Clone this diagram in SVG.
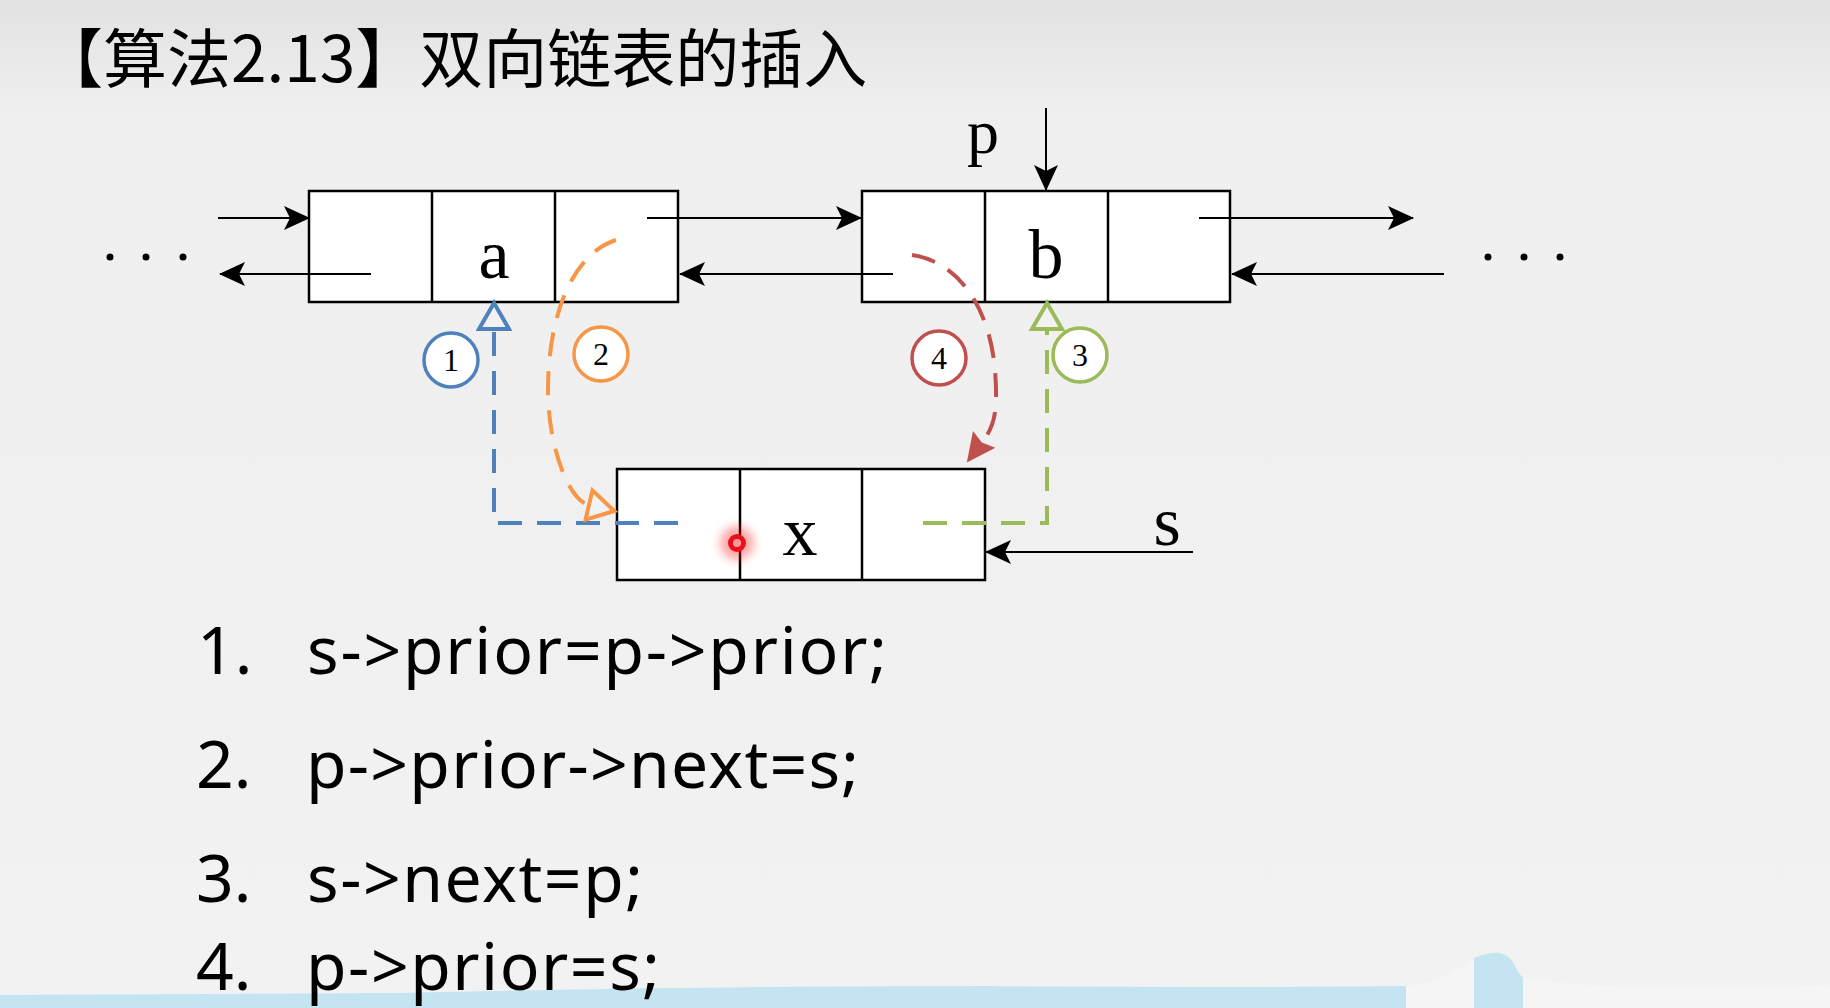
<svg xmlns="http://www.w3.org/2000/svg" width="1830" height="1008" viewBox="0 0 1830 1008">
<defs>
<linearGradient id="bg" x1="0" y1="0" x2="0" y2="1">
<stop offset="0" stop-color="#e2e2e2"/>
<stop offset="0.11" stop-color="#efefef"/>
<stop offset="1" stop-color="#f2f2f2"/>
</linearGradient>
<marker id="ah" markerUnits="userSpaceOnUse" markerWidth="26" markerHeight="26" viewBox="0 0 26 26" refX="25" refY="13" orient="auto"><path d="M0,1 L26,13 L0,25 L6,13 z" fill="#000"/></marker>
<marker id="oBlue" markerUnits="userSpaceOnUse" markerWidth="36" markerHeight="36" viewBox="0 0 36 36" refX="4" refY="18" orient="auto"><path d="M4,3 L30,18 L4,33 z" fill="#f2f2f2" stroke="#4f81bd" stroke-width="4"/></marker>
<marker id="oOrange" markerUnits="userSpaceOnUse" markerWidth="36" markerHeight="36" viewBox="0 0 36 36" refX="4" refY="18" orient="auto"><path d="M4,3 L30,18 L4,33 z" fill="#f2f2f2" stroke="#f79646" stroke-width="4"/></marker>
<marker id="oGreen" markerUnits="userSpaceOnUse" markerWidth="36" markerHeight="36" viewBox="0 0 36 36" refX="4" refY="18" orient="auto"><path d="M4,3 L30,18 L4,33 z" fill="#f2f2f2" stroke="#9bbb59" stroke-width="4"/></marker>
<marker id="fRed" markerUnits="userSpaceOnUse" markerWidth="30" markerHeight="30" viewBox="0 0 30 30" refX="2" refY="15" orient="auto"><path d="M0,1 L29,15 L0,29 L4,15 z" fill="#c0504d"/></marker>
<filter id="glow" x="-1" y="-1" width="3" height="3"><feGaussianBlur stdDeviation="5"/></filter>
<style>
.cell{fill:#fff;stroke:#000;stroke-width:2.5}
.div{stroke:#000;stroke-width:2.5}
.lbl{font-family:"Liberation Serif","Times New Roman",serif;font-size:70px;fill:#000;text-anchor:middle}
.link{stroke:#000;stroke-width:2;fill:none;marker-end:url(#ah)}
.dash{fill:none;stroke-width:4;stroke-dasharray:24 15}
.step{fill:#fff;stroke-width:3.5}
.stepnum{font-family:"Liberation Serif","Times New Roman",serif;font-size:32px;fill:#000;text-anchor:middle}
.code{font-family:"Noto Sans","Open Sans",sans-serif;font-size:66px;fill:#000}
.dot{fill:#000}
</style>
</defs>
<rect x="0" y="0" width="1830" height="1008" fill="url(#bg)"/>

<g id="bottom-band">
<path d="M0 995 L400 993 Q700 986 990 986 Q1200 988 1406 986 L1406 1008 L0 1008 Z" fill="#c4e4f1"/>
<path d="M1406 986 Q1440 982 1460 968 Q1468 962 1474 960 L1474 1008 L1406 1008 Z" fill="#f5f5f5"/>
<path d="M1474 1008 L1474 958 Q1488 952 1500 953 Q1512 956 1516 968 Q1520 976 1523 977 L1523 1008 Z" fill="#c4e4f1"/>
<path d="M1523 977 Q1560 985 1650 988 Q1750 990 1830 985 L1830 1008 L1523 1008 Z" fill="#f5f5f5"/>
</g>

<text id="title" x="39" y="82" font-family="'Noto Sans CJK SC','Noto Sans',sans-serif" font-size="64" fill="#000">【算法2.13】双向链表的插入</text>

<g id="node-a">
<rect class="cell" x="309" y="191" width="369" height="111"/>
<line class="div" x1="432" y1="191" x2="432" y2="302"/>
<line class="div" x1="555" y1="191" x2="555" y2="302"/>
<text class="lbl" x="494" y="278">a</text>
</g>
<g id="node-b">
<rect class="cell" x="862" y="191" width="368" height="111"/>
<line class="div" x1="985" y1="191" x2="985" y2="302"/>
<line class="div" x1="1108" y1="191" x2="1108" y2="302"/>
<text class="lbl" x="1046" y="278">b</text>
</g>
<g id="node-x">
<rect class="cell" x="617" y="469" width="368" height="111"/>
<line class="div" x1="740" y1="469" x2="740" y2="580"/>
<line class="div" x1="862" y1="469" x2="862" y2="580"/>
<text class="lbl" x="800" y="555">x</text>
</g>

<g id="ellipsis-left">
<circle class="dot" cx="110" cy="257" r="3.5"/>
<circle class="dot" cx="146" cy="257" r="3.5"/>
<circle class="dot" cx="183" cy="257" r="3.5"/>
</g>
<g id="ellipsis-right">
<circle class="dot" cx="1488" cy="257" r="3.5"/>
<circle class="dot" cx="1524" cy="257" r="3.5"/>
<circle class="dot" cx="1560" cy="257" r="3.5"/>
</g>

<g id="pointer-p">
<text class="lbl" x="983" y="153" style="font-size:64px">p</text>
</g>
<g id="pointer-s">
<text class="lbl" x="1167" y="545">s</text>
</g>

<g id="connectors">
<path class="link" d="M218 218 H309"/>
<path class="link" d="M371 274 H220"/>
<path class="link" d="M647 218 H861"/>
<path class="link" d="M893 274 H680"/>
<path class="link" d="M1199 218 H1413"/>
<path class="link" d="M1444 274 H1232"/>
<path class="link" d="M1046 108 V190"/>
<path class="link" d="M1193 552 H986"/>
<path class="dash" stroke="#4f81bd" d="M678 523 H494 V329" marker-end="url(#oBlue)"/>
<path class="dash" stroke="#f79646" d="M616 240 C570 255 548 320 548 390 C548 445 568 500 589 505" marker-end="url(#oOrange)"/>
<path class="dash" stroke="#c0504d" d="M912 255 C960 262 990 310 995 370 C998 410 995 425 983 441" marker-end="url(#fRed)"/>
<path class="dash" stroke="#9bbb59" d="M923 523 H1047 V329" marker-end="url(#oGreen)"/>
</g>

<g id="step-1"><circle class="step" stroke="#4f81bd" cx="451" cy="360" r="27"/><text class="stepnum" x="451" y="371">1</text></g>
<g id="step-2"><circle class="step" stroke="#f79646" cx="601" cy="354" r="27"/><text class="stepnum" x="601" y="365">2</text></g>
<g id="step-3"><circle class="step" stroke="#9bbb59" cx="1080" cy="355" r="27"/><text class="stepnum" x="1080" y="366">3</text></g>
<g id="step-4"><circle class="step" stroke="#c0504d" cx="939" cy="358" r="27"/><text class="stepnum" x="939" y="369">4</text></g>

<g id="red-dot">
<circle cx="737" cy="543" r="17" fill="#ff2020" opacity="0.4" filter="url(#glow)"/>
<circle cx="737" cy="543" r="9" fill="#e8101a"/>
<circle cx="737" cy="543" r="4" fill="#ff9a9a"/>
</g>

<g id="code">
<text class="code" x="197" y="674">1.</text>
<text class="code" x="307" y="674" textLength="580" lengthAdjust="spacing">s-&gt;prior=p-&gt;prior;</text>
<text class="code" x="196" y="788">2.</text>
<text class="code" x="306" y="788" textLength="553" lengthAdjust="spacing">p-&gt;prior-&gt;next=s;</text>
<text class="code" x="196" y="902">3.</text>
<text class="code" x="307" y="902" textLength="336" lengthAdjust="spacing">s-&gt;next=p;</text>
<text class="code" x="196" y="990">4.</text>
<text class="code" x="306" y="990" textLength="354" lengthAdjust="spacing">p-&gt;prior=s;</text>
</g>
</svg>
